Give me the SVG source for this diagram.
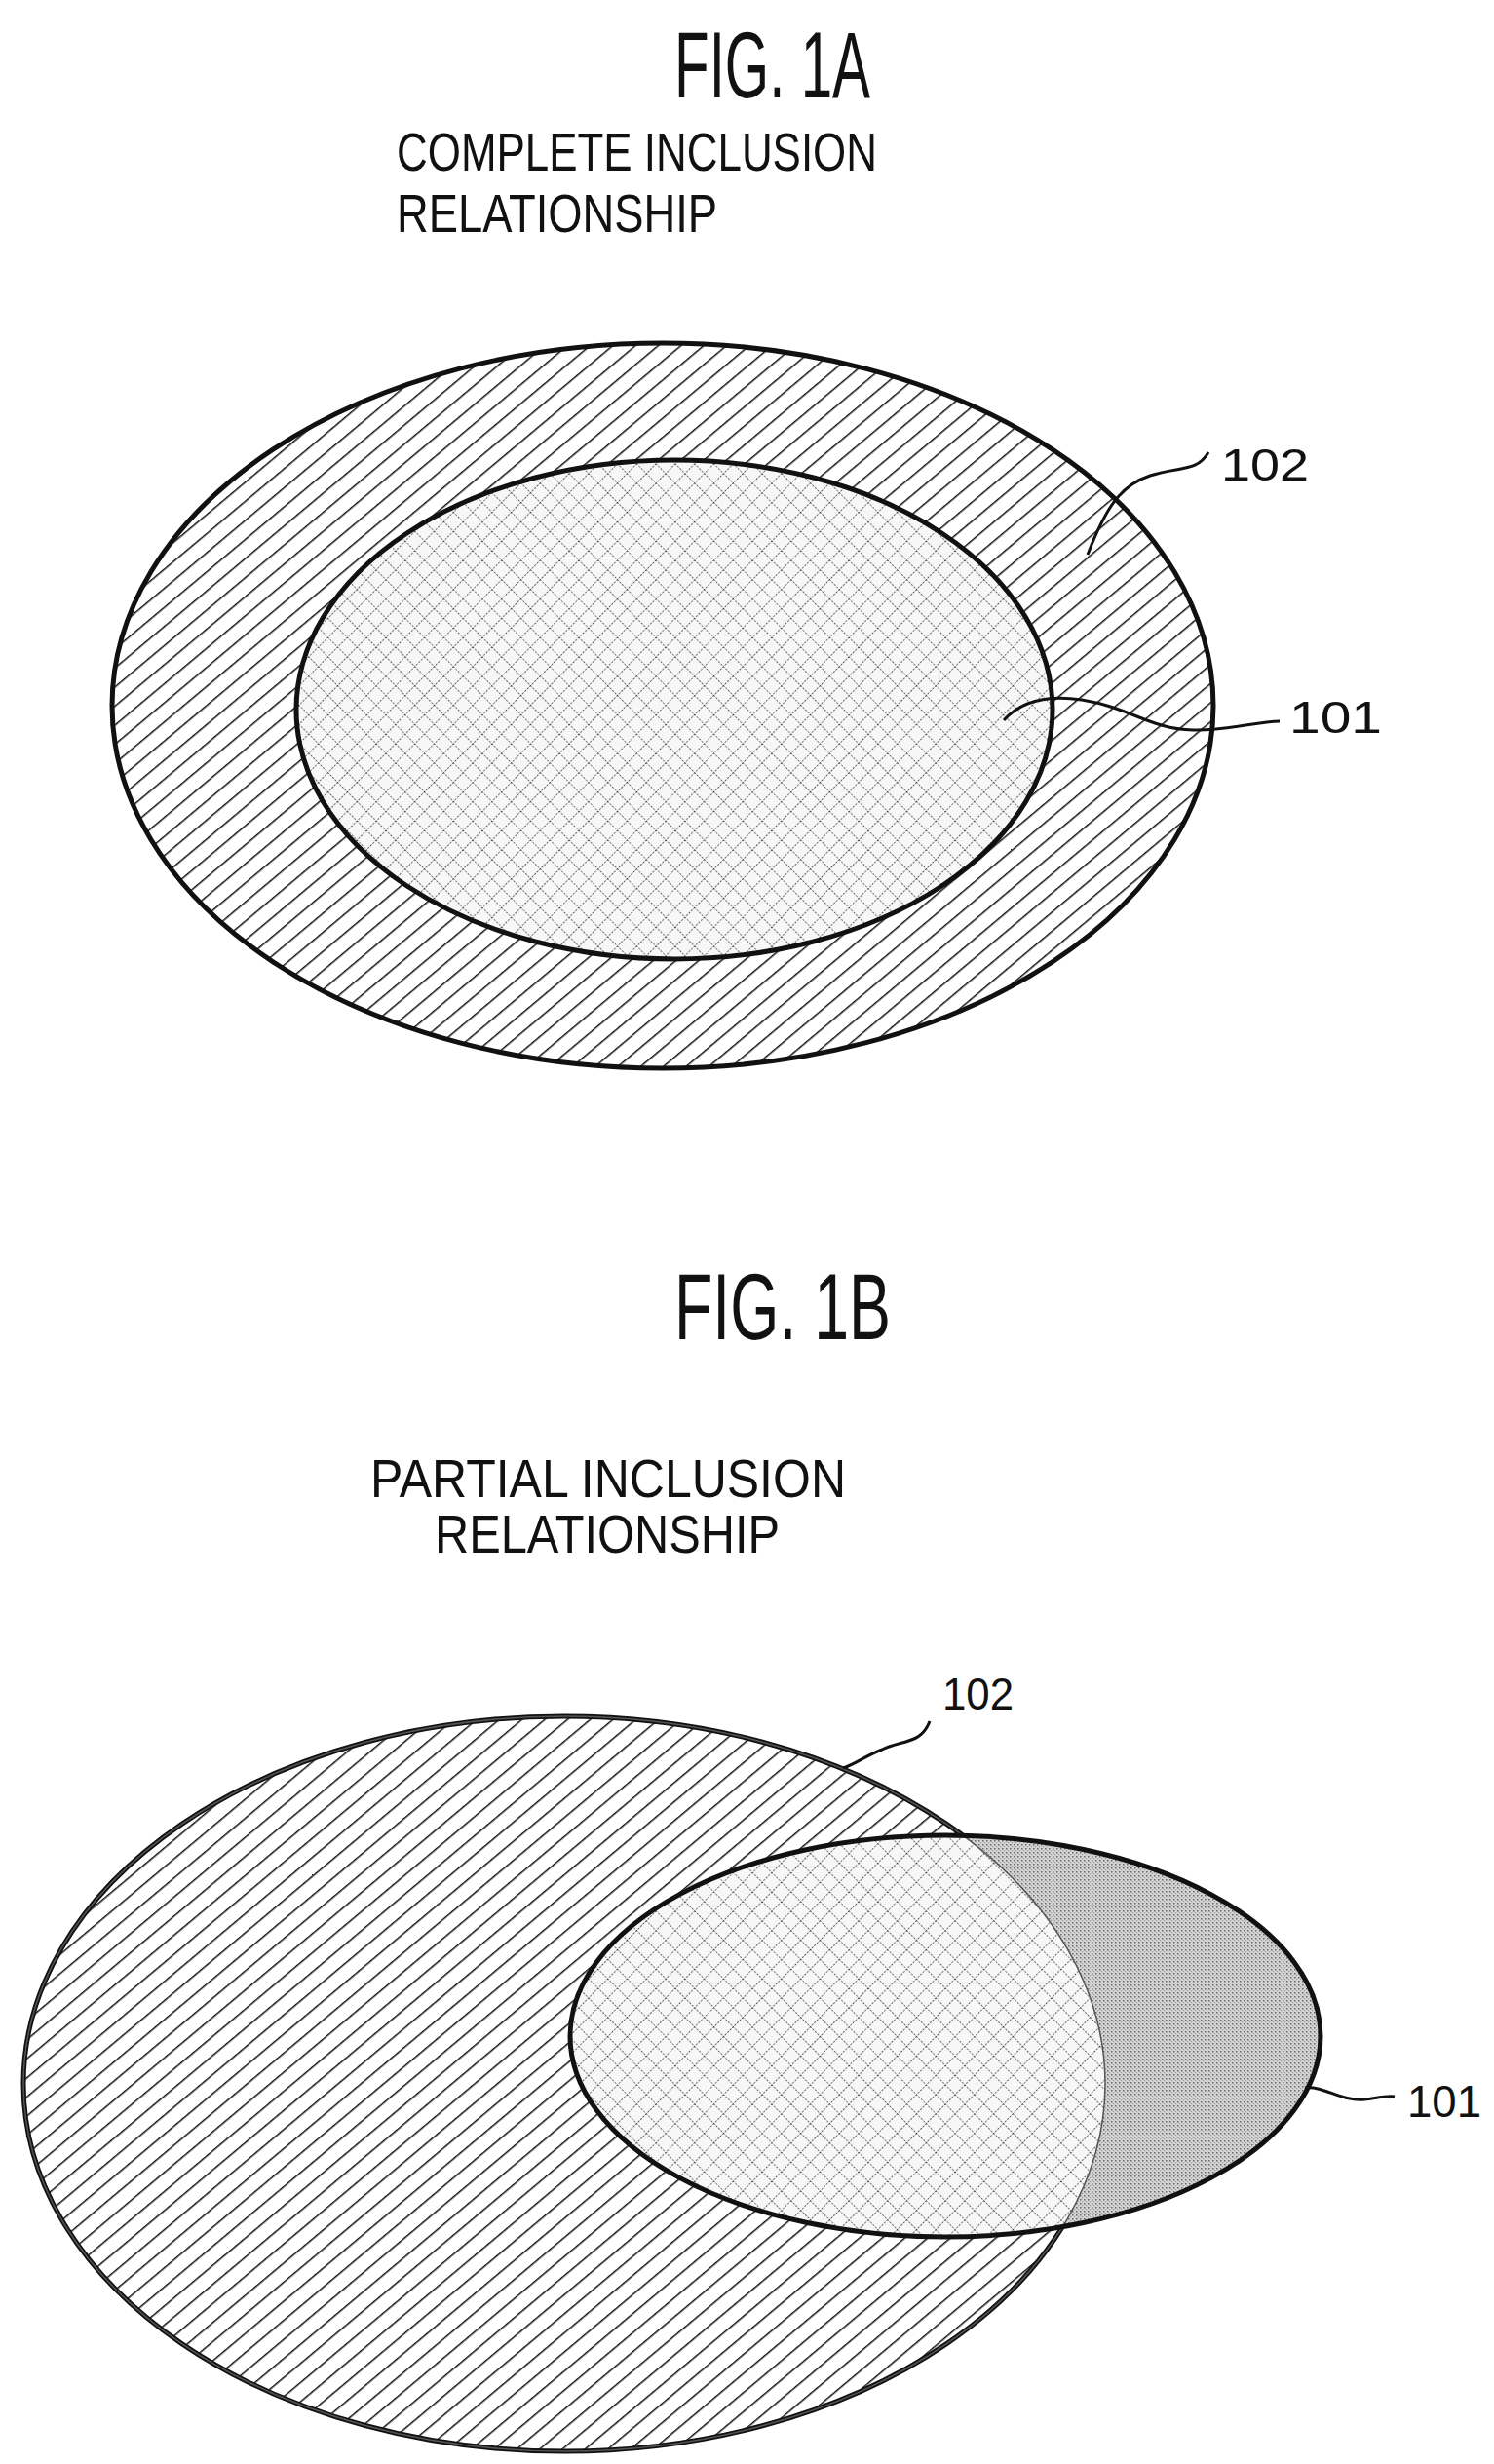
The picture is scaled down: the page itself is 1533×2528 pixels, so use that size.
<svg xmlns="http://www.w3.org/2000/svg" width="1533" height="2528" viewBox="0 0 1533 2528">
<style>
text{font-family:"Liberation Sans",Arial,sans-serif;fill:#111}
.o{stroke:#111;stroke-width:5;}
.ld{fill:none;stroke:#111;stroke-width:3}
</style>
<defs>
<pattern id="hatch" width="15" height="15" patternUnits="userSpaceOnUse" patternTransform="rotate(50)">
<rect width="15" height="15" fill="#fff"/><line x1="0" y1="0" x2="0" y2="15" stroke="#111" stroke-width="3"/>
</pattern>
<pattern id="cross" width="14" height="14" patternUnits="userSpaceOnUse" patternTransform="rotate(45)">
<rect width="14" height="14" fill="#f7f7f7"/><path d="M0 0V14M0 0H14" stroke="#333" stroke-width="1.6" stroke-dasharray="2 1.5"/>
</pattern>
<pattern id="dots" width="4" height="4" patternUnits="userSpaceOnUse">
<rect width="4" height="4" fill="#d4d4d4"/><rect width="1.5" height="1.5" fill="#666"/><rect x="2" y="2" width="1.2" height="1.2" fill="#999"/>
</pattern>
<clipPath id="c102"><ellipse cx="579" cy="2138" rx="555" ry="377"/></clipPath>
</defs>

<g id="fig1a">
<text x="692" y="100" font-size="96" textLength="201" lengthAdjust="spacingAndGlyphs">FIG. 1A</text>
<text x="407" y="175" font-size="56" textLength="493" lengthAdjust="spacingAndGlyphs">COMPLETE INCLUSION</text>
<text x="407" y="238" font-size="56" textLength="329" lengthAdjust="spacingAndGlyphs">RELATIONSHIP</text>
<g id="a102"><ellipse class="o" cx="680" cy="724" rx="565" ry="372" fill="url(#hatch)"/>
<text x="1253" y="493" font-size="46" textLength="90" lengthAdjust="spacingAndGlyphs">102</text></g>
<g id="a101"><ellipse class="o" cx="692" cy="728" rx="388" ry="256" fill="url(#cross)"/>
<text x="1323" y="752" font-size="46" textLength="95" lengthAdjust="spacingAndGlyphs">101</text></g>
</g>

<g id="fig1b">
<text x="692" y="1374" font-size="96" textLength="222" lengthAdjust="spacingAndGlyphs">FIG. 1B</text>
<text x="380" y="1536" font-size="56" textLength="488" lengthAdjust="spacingAndGlyphs">PARTIAL INCLUSION</text>
<text x="446" y="1593" font-size="56" textLength="354" lengthAdjust="spacingAndGlyphs">RELATIONSHIP</text>
<g id="b102"><ellipse class="o" cx="579" cy="2138" rx="555" ry="377" fill="url(#hatch)"/>
<text x="967" y="1754" font-size="46" textLength="73" lengthAdjust="spacingAndGlyphs">102</text></g>
<g id="b101"><ellipse cx="970" cy="2089" rx="385" ry="206" fill="url(#dots)"/>
<ellipse cx="970" cy="2089" rx="385" ry="206" fill="url(#cross)" clip-path="url(#c102)"/>
<ellipse cx="579" cy="2138" rx="555" ry="377" fill="none" stroke="#555" stroke-width="1.5"/>
<ellipse class="o" cx="970" cy="2089" rx="385" ry="206" fill="none"/>
<text x="1444" y="2172" font-size="46" textLength="76" lengthAdjust="spacingAndGlyphs">101</text></g>
</g>

<g id="connectors">
<path class="ld" d="M1240 464 C1228 485 1210 478 1180 488 C1150 498 1135 520 1116 569"/>
<path class="ld" d="M1030 739 C1045 722 1070 712 1110 718 C1160 726 1180 748 1224 749 C1260 750 1290 740 1313 740"/>
<path class="ld" d="M954 1766 C945 1790 925 1785 905 1795 C885 1803 878 1810 865 1814"/>
<path class="ld" d="M1339 2142 C1360 2140 1375 2156 1400 2154 C1415 2152 1422 2150 1431 2151"/>
</g>
</svg>
